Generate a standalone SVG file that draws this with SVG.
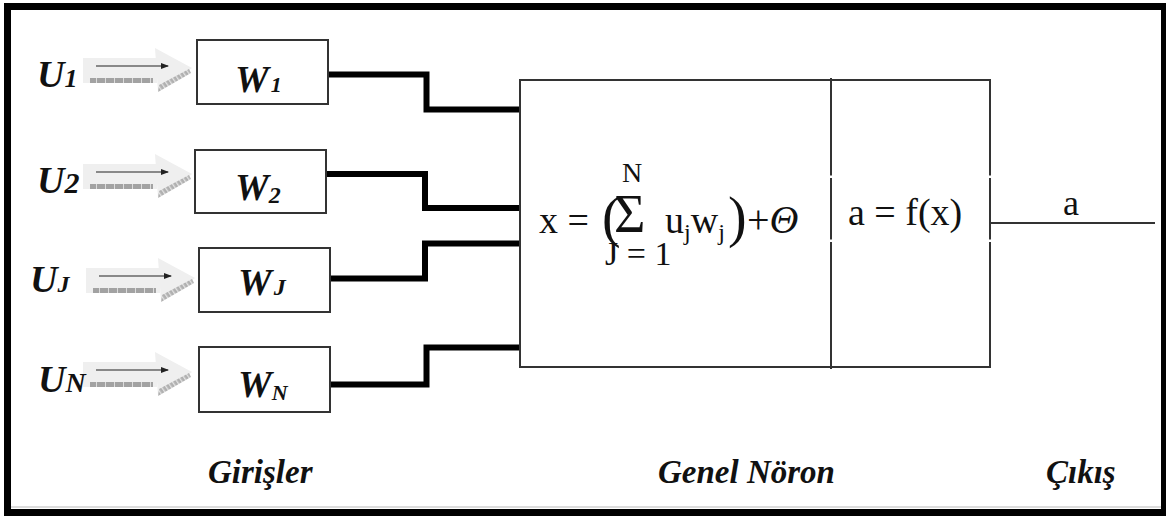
<svg xmlns="http://www.w3.org/2000/svg" width="1166" height="516" viewBox="0 0 1166 516">
<style>
.lbl{font-family:"Liberation Serif","Times New Roman",serif;font-weight:bold;font-style:italic;fill:#111;}
.m{font-family:"Liberation Serif","Times New Roman",serif;fill:#111;}
.box{fill:#fff;stroke:#333;stroke-width:2;}
.conn{fill:none;stroke:#000;stroke-width:6;stroke-linejoin:miter;stroke-linecap:butt;}
.thin{fill:none;stroke:#333;stroke-width:2;}
</style>
<defs>
<pattern id="dash" width="9" height="6" patternUnits="userSpaceOnUse">
<rect width="9" height="6" fill="#a2a2a2"/>
<rect x="8" width="1" height="6" fill="#dcdcdc"/>
</pattern>
<pattern id="hatch" width="4" height="4" patternUnits="userSpaceOnUse" patternTransform="rotate(-35)">
<rect width="4" height="4" fill="#b0b0b0"/>
<rect width="1.3" height="4" fill="#e4e4e4"/>
</pattern>
<marker id="tip" viewBox="0 0 8 6" refX="7" refY="3" markerWidth="8" markerHeight="6" markerUnits="userSpaceOnUse" orient="auto">
<path d="M0,0 L8,3 L0,6 Z" fill="#222"/>
</marker>
<g id="arrow">
<rect x="-5" y="-12" width="74" height="25" fill="#efefef"/>
<polygon points="67,-22 104,-2 70,22" fill="#efefef"/>
<rect x="2" y="8" width="63" height="5" fill="url(#dash)"/>
<polygon points="70,22 71,15 101,-1 103,3" fill="url(#hatch)"/>
<line x1="8" y1="-4" x2="80" y2="-4" stroke="#222" stroke-width="1.2" marker-end="url(#tip)"/>
</g>
</defs>
<rect width="1166" height="516" fill="#fff"/>
<line x1="11" y1="507" x2="1161" y2="507" stroke="#d0d0d0" stroke-width="1.5"/>
<rect id="frame" x="7.5" y="6.5" width="1157" height="506" fill="none" stroke="#000" stroke-width="7"/>

<g id="connectors">
<polyline class="conn" points="328,74.5 426.5,74.5 426.5,109.5 520,109.5"/>
<polyline class="conn" points="326,174 425,174 425,208 520,208"/>
<polyline class="conn" points="330,278.5 425,278.5 425,243.5 520,243.5"/>
<polyline class="conn" points="330,384.5 426.5,384.5 426.5,347.5 520,347.5"/>
<line class="thin" x1="990" y1="223" x2="1155" y2="223"/>
</g>

<g id="input1">
<use href="#arrow" x="88" y="70"/>
<text class="lbl" x="37" y="87" font-size="38">U<tspan font-size="26">1</tspan></text>
</g>
<g id="input2">
<use href="#arrow" x="88" y="176"/>
<text class="lbl" x="37" y="193" font-size="38">U<tspan font-size="30">2</tspan></text>
</g>
<g id="inputJ">
<use href="#arrow" x="91" y="280"/>
<text class="lbl" x="30" y="292" font-size="38">U<tspan font-size="24">J</tspan></text>
</g>
<g id="inputN">
<use href="#arrow" x="88" y="374"/>
<text class="lbl" x="38" y="392" font-size="38">U<tspan font-size="28">N</tspan></text>
</g>

<g id="w1">
<rect class="box" x="197" y="40" width="131" height="64"/>
<text class="lbl" x="235" y="92" font-size="38">W<tspan font-size="22" dx="2">1</tspan></text>
</g>
<g id="w2">
<rect class="box" x="195" y="150" width="131" height="63"/>
<text class="lbl" x="235" y="200" font-size="38">W<tspan font-size="24" dy="3">2</tspan></text>
</g>
<g id="wJ">
<rect class="box" x="199" y="248" width="131" height="64"/>
<text class="lbl" x="238" y="295" font-size="38">W<tspan font-size="24" dx="2">J</tspan></text>
</g>
<g id="wN">
<rect class="box" x="199" y="347" width="131" height="65"/>
<text class="lbl" x="238" y="397" font-size="38">W<tspan font-size="22" dy="3">N</tspan></text>
</g>

<g id="neuron">
<rect class="box" x="520" y="80" width="470" height="287"/>
<rect x="988" y="175.5" width="4" height="2.5" fill="#fff"/>
<rect x="988" y="239.5" width="4" height="2.5" fill="#fff"/>
<line class="thin" x1="831" y1="78" x2="831" y2="175.5"/>
<line class="thin" x1="831" y1="178" x2="831" y2="239.5"/>
<line class="thin" x1="831" y1="242" x2="831" y2="369"/>
<text class="m" x="539" y="233" font-size="38">x =</text>
<text class="m" x="602" y="236" font-size="56">(</text>
<text class="m" x="614" y="232" font-size="54">Σ</text>
<text class="m" x="622" y="182" font-size="28">N</text>
<text class="m" x="605" y="265" font-size="34">J = 1</text>
<text class="m" x="665" y="233" font-size="38">u<tspan font-size="24" dy="7">j</tspan><tspan dy="-7">w</tspan><tspan font-size="24" dy="7">j</tspan></text>
<text class="m" x="728" y="236" font-size="56">)</text>
<text class="m" x="747" y="233" font-size="40">+<tspan font-style="italic">Θ</tspan></text>
<text class="m" x="848" y="225" font-size="38">a = f(x)</text>
</g>

<g id="output">
<text class="m" x="1071" y="215" font-size="36" text-anchor="middle">a</text>
</g>

<g id="captions">
<text class="lbl" x="208" y="483" font-size="33">Girişler</text>
<text class="lbl" x="658" y="483" font-size="33">Genel Nöron</text>
<text class="lbl" x="1046" y="483" font-size="33">Çıkış</text>
</g>
</svg>
